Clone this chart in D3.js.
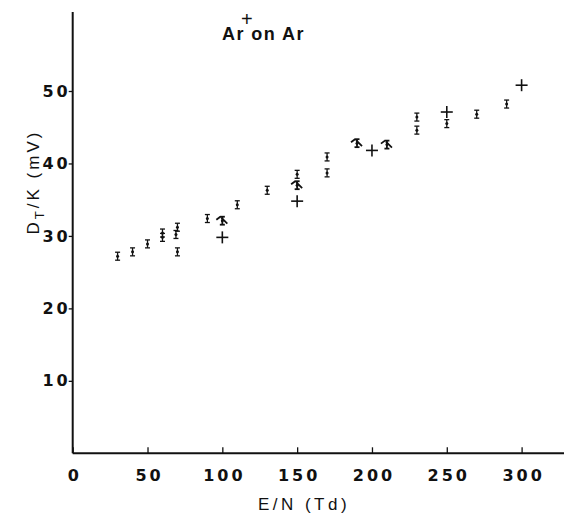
<!DOCTYPE html>
<html>
<head>
<meta charset="utf-8">
<script src="https://cdn.jsdelivr.net/npm/d3@7"></script>
<style>
  body { margin: 0; background: #fff; }
  svg { display: block; }
</style>
</head>
<body>
<script>
var width = 564;
var height = 514;

// data
var barX = [30, 40, 50, 60, 60, 69, 70, 70, 90, 110, 130, 150, 170, 170, 230, 230, 250, 270, 290];
var barY = [27.2, 27.8, 28.9, 29.8, 30.4, 30.2, 31.2, 27.8, 32.4, 34.3, 36.3, 38.5, 40.9, 38.7, 46.4, 44.6, 45.5, 46.8, 48.2];
var slashX = [100, 150, 190, 210];
var slashY = [32.1, 37.0, 42.8, 42.6];
var plusX = [100, 150, 200, 250, 300];
var plusY = [29.8, 34.8, 41.8, 47.1, 50.8];
var errHalf = 0.55;

var xTicks = [0, 50, 100, 150, 200, 250, 300];
var yTicks = [10, 20, 30, 40, 50];

var svg = d3.select("body").append("svg")
    .attr("width", width)
    .attr("height", height);

var xScale = d3.scaleLinear().domain([0, 300]).range([72.7, 521.6]);
var yScale = d3.scaleLinear().domain([0, 50]).range([453.3, 91]);

var ink = "#111";

// axes
var xAxis = d3.axisBottom(xScale).tickValues(xTicks).tickSize(-6).tickPadding(14).tickFormat(d3.format("d"));
var gx = svg.append("g").attr("transform", "translate(0," + yScale(0) + ")").call(xAxis);
gx.select(".domain").attr("d", "M" + xScale(0) + ",0H" + width).attr("stroke", ink).attr("stroke-width", 2);

var yAxis = d3.axisLeft(yScale).tickValues(yTicks).tickSize(4).tickPadding(1).tickFormat(d3.format("d"));
var gy = svg.append("g").attr("transform", "translate(" + xScale(0) + ",0)").call(yAxis);
gy.select(".domain").attr("d", "M0,12V" + yScale(0)).attr("stroke", ink).attr("stroke-width", 2);

svg.selectAll(".tick line").attr("stroke", ink).attr("stroke-width", 1.3);
svg.selectAll(".tick text")
    .attr("fill", ink)
    .style("font-family", "DejaVu Sans")
    .style("font-weight", "bold")
    .style("font-size", "16px")
    .style("letter-spacing", "3px");
gx.selectAll(".tick text").attr("dx", "1.5px").attr("dy", "0.85em");
gy.selectAll(".tick text").attr("dx", "3px");

// error bar points
var bars = svg.append("g").attr("stroke", ink).attr("stroke-width", 1.3).attr("fill", ink);
function errBar(g, x, y) {
    var top = yScale(y + errHalf), bot = yScale(y - errHalf), cx = xScale(x);
    g.append("line").attr("x1", cx).attr("x2", cx).attr("y1", top).attr("y2", bot);
    g.append("line").attr("x1", cx - 2.5).attr("x2", cx + 2.5).attr("y1", top).attr("y2", top);
    g.append("line").attr("x1", cx - 2.5).attr("x2", cx + 2.5).attr("y1", bot).attr("y2", bot);
    g.append("circle").attr("cx", cx).attr("cy", yScale(y)).attr("r", 1.5).attr("stroke", "none");
}
barX.forEach(function(x, i) { errBar(bars, x, barY[i]); });

// points with the slanted mark
var slashes = svg.append("g").attr("stroke", ink).attr("stroke-width", 1.8).attr("fill", ink);
slashX.forEach(function(x, i) {
    errBar(slashes, x, slashY[i]);
    var cx = xScale(x), cy = yScale(slashY[i]);
    slashes.append("path")
        .attr("fill", "none")
        .attr("d", "M" + (cx - 6) + "," + (cy - 1) + "L" + (cx - 2) + "," + (cy - 4)
            + "M" + (cx - 1) + "," + (cy - 3) + "L" + (cx + 5) + "," + (cy + 3));
});

// plus markers
var plus = svg.append("g").attr("stroke", ink).attr("stroke-width", 1.6);
plusX.forEach(function(x, i) {
    var cx = xScale(x), cy = yScale(plusY[i]);
    plus.append("line").attr("x1", cx - 6).attr("x2", cx + 6).attr("y1", cy).attr("y2", cy);
    plus.append("line").attr("x1", cx).attr("x2", cx).attr("y1", cy - 6).attr("y2", cy + 6);
});

// labels
var labelFont = "Liberation Sans";
svg.append("text")
    .attr("x", 304).attr("y", 510)
    .attr("text-anchor", "middle")
    .attr("fill", ink)
    .style("font-family", labelFont)
    .style("font-size", "17px")
    .style("letter-spacing", "3.5px")
    .text("E/N (Td)");

var yt = svg.append("text")
    .attr("transform", "translate(39,182) rotate(-90)")
    .attr("text-anchor", "middle")
    .attr("fill", ink)
    .style("font-family", labelFont)
    .style("font-size", "17px")
    .style("letter-spacing", "3px");
yt.append("tspan").text("D");
yt.append("tspan").attr("dy", 5).style("font-size", "13px").text("T");
yt.append("tspan").attr("dy", -5).text("/K  (mV)");

var title = svg.append("text")
    .attr("x", 222).attr("y", 40)
    .attr("fill", ink)
    .style("font-family", labelFont)
    .style("font-weight", "bold")
    .style("font-size", "18px")
    .style("letter-spacing", "1.5px");
title.append("tspan").text("Ar");
title.append("tspan").attr("dy", -14).attr("dx", -4).style("font-weight", "normal").style("font-size", "20px").text("+");
title.append("tspan").attr("dy", 14).attr("dx", -3).text("on  Ar");
</script>
</body>
</html>
